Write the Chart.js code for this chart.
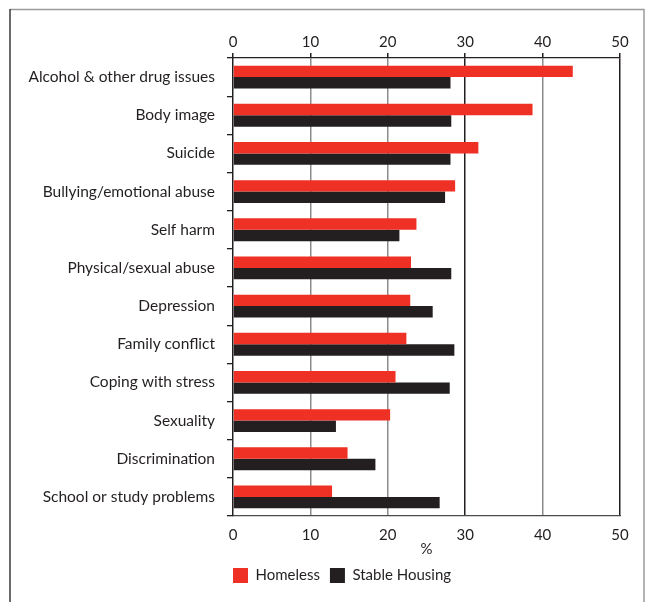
<!DOCTYPE html>
<html>
<head>
<meta charset="utf-8">
<script src="https://cdn.jsdelivr.net/npm/chart.js@4.4.1/dist/chart.umd.min.js"></script>
<style>
  html, body { margin: 0; padding: 0; background: #fff; }
  #wrap { width: 646px; height: 602px; }
</style>
</head>
<body>
<div id="wrap"><canvas id="myChart" width="646" height="602"></canvas></div>
<script>
'use strict';

let categories = [
  'Alcohol & other drug issues', 'Body image', 'Suicide', 'Bullying/emotional abuse',
  'Self harm', 'Physical/sexual abuse', 'Depression', 'Family conflict',
  'Coping with stress', 'Sexuality', 'Discrimination', 'School or study problems'
];

let homeless = [43.9, 38.7, 31.7, 28.7, 23.7, 23.0, 22.9, 22.4, 21.0, 20.3, 14.8, 12.8];
let stableHousing = [28.1, 28.2, 28.1, 27.4, 21.5, 28.2, 25.8, 28.6, 28.0, 13.3, 18.4, 26.7];

let tickValues = [0, 10, 20, 30, 40, 50];

const fontFamily = 'Lato, "Open Sans", sans-serif';
const inkColor = '#231f20';

// grid lines at 30 and 50 are black, the rest grey
function gridColor(ctx) {
  if (ctx.tick && (ctx.tick.value === 30 || ctx.tick.value === 50)) {
    return '#231f20';
  }
  return '#8c8c8c';
}

// outer frame around the figure
const framePlugin = {
  id: 'frame',
  beforeDraw(chart) {
    let c = chart.ctx;
    c.save();
    c.lineWidth = 1.5;
    c.strokeStyle = '#9a9a9a';
    c.beginPath();
    c.moveTo(10, 9.5);
    c.lineTo(644, 9.5);
    c.lineTo(644, 602);
    c.stroke();
    c.strokeStyle = '#3a3a3a';
    c.beginPath();
    c.moveTo(10, 9);
    c.lineTo(10, 602);
    c.stroke();
    c.restore();
  }
};

// pull the legend in line with the value axis
const legendShift = {
  id: 'legendShift',
  afterLayout(chart) {
    if (chart.legend) {
      chart.legend.left -= 10;
      chart.legend.right -= 10;
    }
  }
};

let ctx = document.getElementById('myChart').getContext('2d');
let myChart = new Chart(ctx, {
  type: 'bar',
  data: {
    labels: categories,
    datasets: [{
      label: 'Homeless',
      data: homeless,
      backgroundColor: '#ee3124',
      borderWidth: 0,
      xAxisID: 'x'
    }, {
      label: 'Stable Housing',
      data: stableHousing,
      backgroundColor: '#231f20',
      borderWidth: 0,
      xAxisID: 'x'
    }]
  },
  options: {
    indexAxis: 'y',
    responsive: false,
    animation: false,
    devicePixelRatio: 1,
    layout: {
      padding: { top: 20, right: 26, left: 0, bottom: 9 }
    },
    datasets: {
      bar: {
        categoryPercentage: 0.6,
        barPercentage: 1.0
      }
    },
    scales: {
      x: {
        position: 'top',
        min: 0,
        max: 50,
        afterBuildTicks(scale) {
          scale.ticks = tickValues.map(v => ({ value: v }));
        },
        afterFit(scale) {
          scale.height = 38;
        },
        border: { display: true, color: inkColor, width: 1.3 },
        grid: {
          color: gridColor,
          lineWidth: 1.5,
          drawTicks: true,
          tickLength: 5,
          tickColor: inkColor
        },
        ticks: {
          color: inkColor,
          padding: 2,
          font: { family: fontFamily, size: 15 }
        }
      },
      x2: {
        position: 'bottom',
        min: 0,
        max: 50,
        afterBuildTicks(scale) {
          scale.ticks = tickValues.map(v => ({ value: v }));
        },
        afterFit(scale) {
          scale.height = 42;
        },
        border: { display: true, color: '#4a4a4a', width: 1.3 },
        grid: { drawOnChartArea: false, drawTicks: false },
        ticks: {
          color: inkColor,
          padding: 10,
          font: { family: fontFamily, size: 15 }
        },
        title: {
          display: true,
          text: '%',
          color: inkColor,
          padding: { top: 0, bottom: 0 },
          font: { family: fontFamily, size: 15 }
        }
      },
      y: {
        afterFit(scale) {
          scale.width = 233;
        },
        border: { display: true, color: inkColor, width: 1.3 },
        grid: {
          drawOnChartArea: false,
          offset: true,
          tickLength: 6,
          tickColor: inkColor,
          lineWidth: 1.3
        },
        ticks: {
          color: inkColor,
          padding: 12,
          font: { family: fontFamily, size: 15.5 }
        }
      }
    },
    plugins: {
      tooltip: { enabled: false },
      legend: {
        position: 'bottom',
        align: 'start',
        fullSize: false,
        labels: {
          boxWidth: 15,
          boxHeight: 15,
          padding: 10,
          color: inkColor,
          font: { family: fontFamily, size: 15 }
        }
      }
    }
  },
  plugins: [framePlugin, legendShift]
});
</script>
</body>
</html>
